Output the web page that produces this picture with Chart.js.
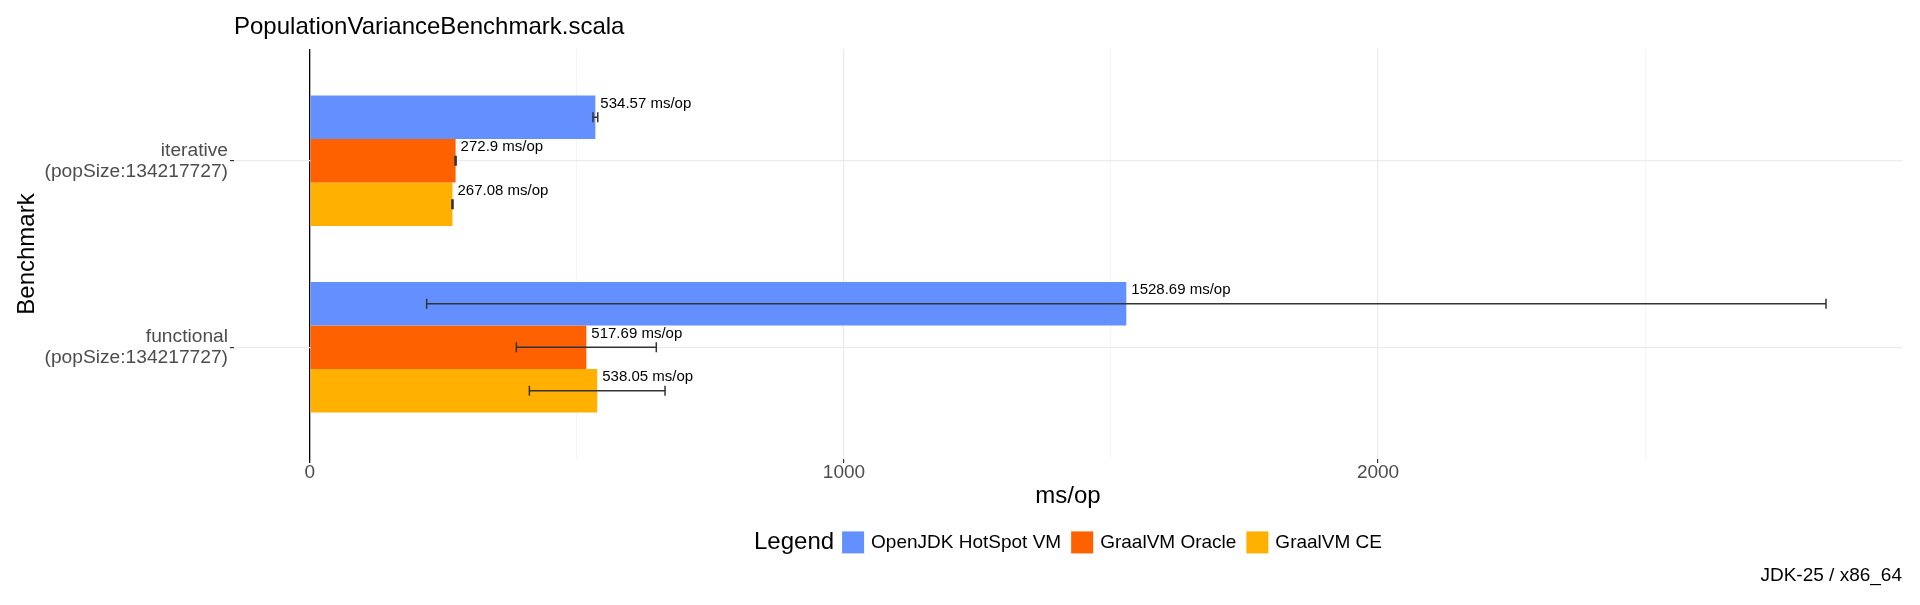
<!DOCTYPE html>
<html>
<head>
<meta charset="utf-8">
<script src="https://cdn.jsdelivr.net/npm/chart.js@4.4.1/dist/chart.umd.min.js"></script>
<style>
  html, body { margin: 0; padding: 0; background: #fff; }
  #wrap { width: 1920px; height: 605px; }
</style>
</head>
<body>
<div id="wrap"><canvas id="benchChart" width="1920" height="605"></canvas></div>
<script>
// benchmarks, bottom to top (first level sits at the bottom like ggplot)
const benchmarks = ['functional', 'iterative'];
const benchParam = '(popSize:134217727)';
const seriesNames = ['OpenJDK HotSpot VM', 'GraalVM Oracle', 'GraalVM CE'];
const seriesColors = ['#648FFF', '#FE6100', '#FFB000'];

// scores in ms/op, same order as benchmarks
const hotspotScore = [1528.69, 534.57];
const oracleScore = [517.69, 272.9];
const ceScore = [538.05, 267.08];

// score error (half width of each error bar)
const hotspotError = [1310, 4.5];
const oracleError = [131, 1];
const ceError = [127, 1];

const xTicks = [0, 500, 1000, 1500, 2000, 2500];
const xMin = -142, xMax = 2981;

Chart.defaults.font.family = "'Liberation Sans', Arial, sans-serif";

function makeSet(i, scores, errors) {
  return {
    label: seriesNames[i],
    data: scores.map((v, k) => ({ x: v, y: k + 1 })),
    errors: errors,
    backgroundColor: seriesColors[i],
    borderWidth: 0,
    categoryPercentage: 0.7,
    barPercentage: 1.0
  };
}

// error bars + value labels
const barExtras = {
  id: 'barExtras',
  afterDatasetsDraw(chart) {
    const ctx = chart.ctx;
    const xs = chart.scales.x;
    ctx.save();
    chart.data.datasets.forEach((ds, di) => {
      const meta = chart.getDatasetMeta(di);
      meta.data.forEach((bar, i) => {
        const v = ds.data[i].x, e = ds.errors[i];
        const x1 = xs.getPixelForValue(v - e), x2 = xs.getPixelForValue(v + e);
        ctx.strokeStyle = '#333';
        ctx.lineWidth = 1.5;
        ctx.beginPath();
        ctx.moveTo(x1, bar.y); ctx.lineTo(x2, bar.y);
        ctx.moveTo(x1, bar.y - 5); ctx.lineTo(x1, bar.y + 5);
        ctx.moveTo(x2, bar.y - 5); ctx.lineTo(x2, bar.y + 5);
        ctx.stroke();
        ctx.fillStyle = '#000';
        ctx.font = "15px 'Liberation Sans', Arial, sans-serif";
        ctx.textAlign = 'left';
        ctx.textBaseline = 'middle';
        ctx.fillText(v + ' ms/op', bar.x + 5, bar.y - 13.5);
      });
    });
    ctx.restore();
  }
};

// ggplot style legend row: "Legend" then the keys, centred under the panel
const rowLegend = {
  id: 'rowLegend',
  afterDraw(chart) {
    const ctx = chart.ctx;
    const area = chart.chartArea;
    const y = chart.scales.x.bottom + 32;
    const fam = "'Liberation Sans', Arial, sans-serif";
    ctx.save();
    ctx.font = '24px ' + fam;
    const titleW = ctx.measureText('Legend').width;
    ctx.font = '19px ' + fam;
    const sets = chart.data.datasets;
    const widths = sets.map(d => ctx.measureText(d.label).width);
    let total = titleW + 8;
    widths.forEach((w, i) => { total += 22 + 7 + w + (i < widths.length - 1 ? 10 : 0); });
    let x = (area.left + area.right) / 2 - total / 2;
    ctx.textBaseline = 'middle';
    ctx.textAlign = 'left';
    ctx.fillStyle = '#000';
    ctx.font = '24px ' + fam;
    ctx.fillText('Legend', x, y);
    x += titleW + 8;
    ctx.font = '19px ' + fam;
    sets.forEach((d, i) => {
      ctx.fillStyle = d.backgroundColor;
      ctx.fillRect(x, y - 11, 22, 22);
      x += 22 + 7;
      ctx.fillStyle = '#000';
      ctx.fillText(d.label, x, y);
      x += widths[i] + 10;
    });
    ctx.restore();
  }
};

new Chart(document.getElementById('benchChart'), {
  type: 'bar',
  data: {
    datasets: [
      makeSet(0, hotspotScore, hotspotError),
      makeSet(1, oracleScore, oracleError),
      makeSet(2, ceScore, ceError)
    ]
  },
  options: {
    indexAxis: 'y',
    responsive: false,
    animation: false,
    events: [],
    layout: { padding: { left: 0, right: 18, top: 0, bottom: 0 } },
    scales: {
      x: {
        type: 'linear',
        min: xMin,
        max: xMax,
        afterBuildTicks: s => { s.ticks = xTicks.map(v => ({ value: v })); },
        afterFit: s => { s.height = 51.4; },
        ticks: {
          callback: v => (v % 1000 === 0 ? String(v) : ''),
          font: { size: 19, lineHeight: 1 },
          color: '#4D4D4D',
          padding: 0.5,
          maxRotation: 0,
          autoSkip: false
        },
        grid: {
          color: c => (c.tick && c.tick.value === 0 ? '#000' : (c.tick && c.tick.value % 1000 === 0 ? '#EBEBEB' : '#F2F2F2')),
          lineWidth: c => (c.tick && c.tick.value === 0 ? 1.3 : (c.tick && c.tick.value % 1000 === 0 ? 1.2 : 0.8)),
          tickLength: 4,
          tickColor: c => (c.tick && c.tick.value % 1000 === 0 ? (c.tick.value === 0 ? '#000' : '#333') : 'rgba(0,0,0,0)')
        },
        border: { display: false },
        title: { display: true, text: 'ms/op', font: { size: 24 }, color: '#000', padding: { top: 0, bottom: 0 } }
      },
      y: {
        type: 'linear',
        min: 0.4,
        max: 2.6,
        offset: false,
        afterBuildTicks: s => { s.ticks = benchmarks.map((b, i) => ({ value: i + 1 })); },
        afterFit: s => { s.width = 234; },
        ticks: {
          callback: v => [benchmarks[v - 1], benchParam],
          font: { size: 19.2, lineHeight: 1.1 },
          color: '#4D4D4D',
          padding: 2
        },
        grid: { offset: false, color: '#EBEBEB', lineWidth: 1.2, tickLength: 4, tickColor: '#333' },
        border: { display: false },
        title: { display: true, text: 'Benchmark', font: { size: 24 }, color: '#000', padding: { top: 12.6, bottom: 0 } }
      }
    },
    plugins: {
      legend: { display: false },
      tooltip: { enabled: false },
      title: {
        display: true,
        text: 'PopulationVarianceBenchmark.scala',
        align: 'start',
        fullSize: false,
        color: '#000',
        font: { size: 24, weight: 'normal' },
        padding: { top: 12.6, bottom: 7.6 }
      },
      subtitle: {
        display: true,
        text: 'JDK-25 / x86_64',
        position: 'bottom',
        align: 'end',
        color: '#000',
        font: { size: 19, weight: 'normal' },
        padding: { top: 53.7, bottom: 18.1 }
      }
    }
  },
  plugins: [barExtras, rowLegend]
});
</script>
</body>
</html>
